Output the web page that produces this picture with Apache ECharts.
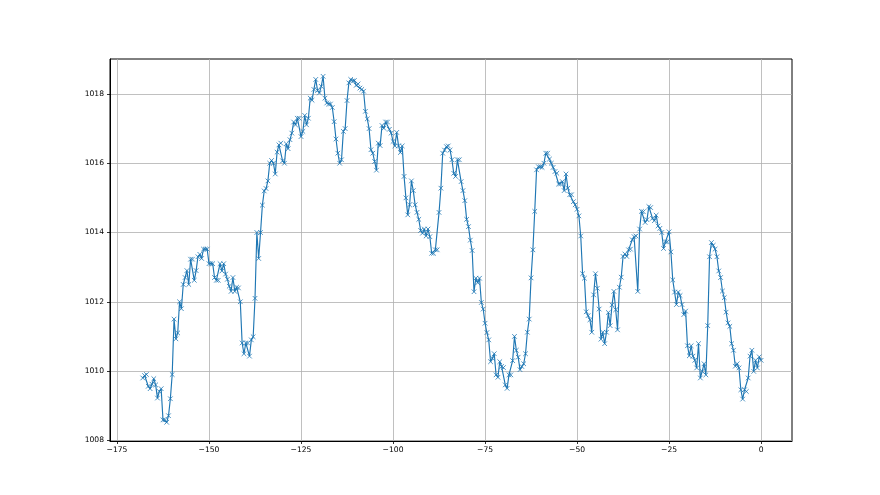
<!DOCTYPE html>
<html><head><meta charset="utf-8">
<script src="https://cdn.jsdelivr.net/npm/echarts@6/dist/echarts.min.js"></script>
<style>html,body{margin:0;padding:0;background:#fff}#c{width:880px;height:495px}</style>
</head><body><div id="c"></div>
<script>
// sampling grid of the series (hours relative to now)
const START_HOUR = -168;
const STEP_HOURS = 0.5;

// pressure readings (hPa)
const pressure = [
 1009.80,1009.87,1009.90,1009.56,1009.49,1009.62,1009.78,1009.60,1009.22,1009.41,
 1009.49,1008.59,1008.59,1008.52,1008.71,1009.20,1009.90,1011.50,1010.93,1011.10,
 1012.00,1011.80,1012.50,1012.70,1012.90,1012.50,1013.23,1013.23,1012.62,1012.90,
 1013.30,1013.37,1013.25,1013.52,1013.52,1013.52,1013.10,1013.10,1013.10,1012.70,
 1012.62,1012.62,1013.10,1012.89,1013.10,1012.80,1012.65,1012.45,1012.30,1012.70,
 1012.30,1012.42,1012.40,1012.00,1010.81,1010.50,1010.81,1010.81,1010.43,1010.90,
 1010.99,1012.10,1014.00,1013.25,1014.00,
 1014.79,1015.20,1015.27,1015.49,1016.00,1016.08,1016.00,1015.69,1016.32,1016.53,
 1016.58,1016.07,1016.00,1016.56,1016.42,1016.68,1016.87,1017.19,1017.11,1017.30,
 1017.30,1016.77,1016.92,1017.38,1017.11,1017.30,1017.88,1017.82,1018.13,1018.42,
 1018.10,1018.03,1018.22,1018.51,1017.88,1017.74,1017.71,1017.71,1017.61,1017.20,
 1016.70,1016.29,1016.00,1016.10,1016.92,1017.00,1017.81,1018.32,1018.42,1018.37,
 1018.39,1018.25,1018.29,1018.17,1018.13,1018.08,1017.50,1017.28,1017.00,1016.39,
 1016.29,1016.05,1015.80,1016.58,1016.51,1017.09,1017.01,1017.19,1017.19,
 1016.98,1016.87,1016.63,1016.50,1016.89,1016.50,1016.31,1016.50,1015.62,1015.00,
 1014.51,1014.80,1015.49,1015.21,1014.80,1014.58,1014.38,1014.06,1013.98,1014.10,
 1013.90,1014.10,1013.88,1013.40,1013.40,1013.50,1013.50,1014.58,1015.28,1016.29,
 1016.38,1016.48,1016.50,1016.38,1016.10,1015.71,1015.62,1016.10,1016.10,1015.47,
 1015.21,1014.92,1014.38,1014.17,1013.78,1013.48,1012.29,1012.68,1012.55,1012.68,
 1011.98,1011.79,1011.38,1011.11,1010.90,1010.27,1010.37,1010.50,1009.89,1009.82,
 1010.27,1010.13,1010.10,1009.60,1009.50,1009.89,1009.89,1010.30,1011.00,
 1010.60,1010.40,1010.04,1010.13,1010.21,1010.50,1011.12,1011.50,1012.69,1013.50,
 1014.61,1015.81,1015.90,1015.90,1015.88,1016.00,1016.29,1016.29,1016.12,1016.00,
 1015.88,1015.76,1015.71,1015.40,1015.40,1015.47,1015.21,1015.69,1015.28,1015.09,
 1015.09,1014.89,1014.80,1014.67,1014.48,1013.90,1012.81,1012.68,1011.71,1011.60,
 1011.48,1011.12,1012.20,1012.81,1012.39,1011.79,1010.92,1011.12,1010.79,1011.12,
 1011.69,1011.31,1011.91,1012.30,1011.77,1011.19,1012.42,1012.71,1013.31,1013.38,
 1013.31,1013.50,1013.52,1013.79,1013.88,1013.90,1012.30,1014.10,1014.61,
 1014.60,1014.29,1014.37,1014.75,1014.72,1014.41,1014.34,1014.50,1014.19,1014.12,
 1014.00,1013.54,1013.73,1013.73,1014.02,1013.44,1012.63,1012.28,1011.92,1012.28,
 1012.18,1011.92,1011.63,1011.73,1010.73,1010.44,1010.73,1010.43,1010.31,1010.09,
 1010.79,1009.80,1009.99,1010.21,1009.89,1011.31,1013.30,1013.71,1013.63,1013.52,
 1013.30,1012.89,1012.70,1012.31,1012.12,1011.70,1011.39,1011.29,1010.79,1010.60,
 1010.14,1010.21,1010.09,1009.46,1009.19,1009.46,1009.41,1009.80,1010.43,1010.60,
 1009.99,1010.31,1010.09,1010.41,1010.31
];

const xTicks = [-175,-150,-125,-100,-75,-50,-25,0];
const yTicks = [1008,1010,1012,1014,1016,1018];

const data = pressure.map((v, i) => [START_HOUR + i * STEP_HOURS, v]);
const plain = v => String(v).replace('-', '\u2212');

const FONT = 'DejaVu Sans';
const chart = echarts.init(document.getElementById('c'), null, {renderer: 'canvas'});
chart.setOption({
  animation: false,
  backgroundColor: '#ffffff',
  grid: {left: 110, right: 88, top: 59, bottom: 54, show: true, borderColor: '#000', borderWidth: 1, backgroundColor: 'transparent'},
  xAxis: {
    type: 'value', min: -176.9, max: 8.4,
    axisLine: {show: true, onZero: false, lineStyle: {color: '#000', width: 1}},
    axisTick: {show: true, inside: false, length: 3, customValues: xTicks, lineStyle: {color: '#000', width: 0.8}},
    axisLabel: {customValues: xTicks, formatter: plain, color: '#000', fontFamily: FONT, fontSize: 7.6, margin: 5, showMinLabel: true, showMaxLabel: true},
    splitLine: {show: true, lineStyle: {color: '#b0b0b0', width: 0.8}}
  },
  yAxis: {
    type: 'value', min: 1007.98, max: 1019.01,
    axisLine: {show: true, onZero: false, lineStyle: {color: '#000', width: 1}},
    axisTick: {show: true, inside: false, length: 3, customValues: yTicks, lineStyle: {color: '#000', width: 0.8}},
    axisLabel: {customValues: yTicks, formatter: plain, color: '#000', fontFamily: FONT, fontSize: 7.6, margin: 6},
    splitLine: {show: true, lineStyle: {color: '#b0b0b0', width: 0.8}}
  },
  series: [{
    type: 'line',
    data: data,
    lineStyle: {color: '#1f77b4', width: 1.15},
    symbol: 'path://M0,0L10,10M10,0L0,10',
    symbolSize: 4.6,
    showAllSymbol: true,
    itemStyle: {color: '#1f77b4', borderColor: '#1f77b4', borderWidth: 0.8},
    emphasis: {disabled: true}
  }]
});
</script>
</body></html>
